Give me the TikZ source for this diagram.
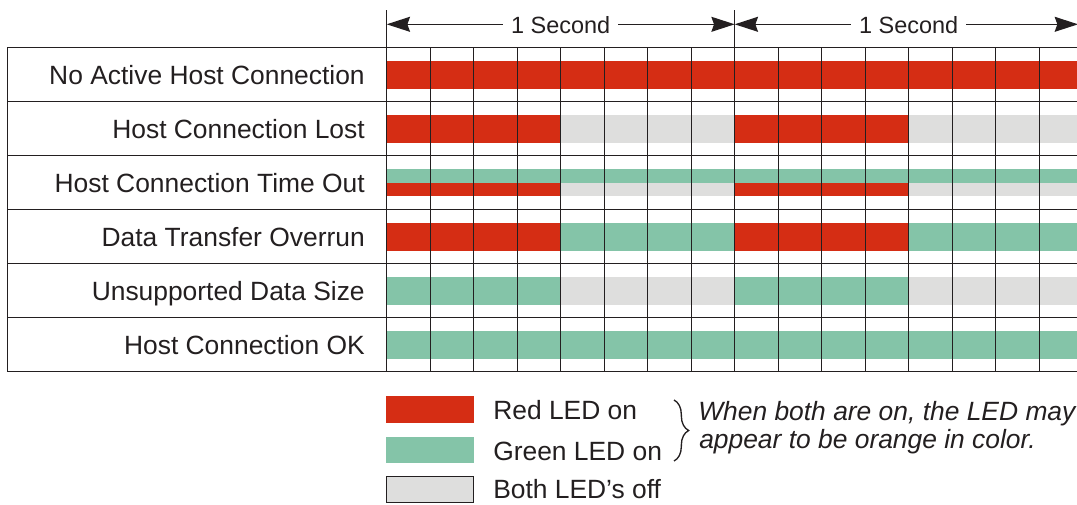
\documentclass[tikz,border=0pt]{standalone}
\usepackage{fontspec}
\setmainfont{Liberation Sans}
\usetikzlibrary{arrows.meta,decorations.pathreplacing}
\definecolor{ledred}{RGB}{213,45,20}
\definecolor{ledgreen}{RGB}{132,196,168}
\definecolor{ledoff}{RGB}{222,222,221}
\definecolor{ink}{RGB}{35,31,32}
\begin{document}
\begin{tikzpicture}[x=0.75pt,y=-0.75pt,
  gridline/.style={draw=ink,line width=1pt},
  rowlabel/.style={anchor=base east,inner sep=0pt,text=ink,font=\fontsize{19.8pt}{22pt}\selectfont},
  sectext/.style={anchor=base,fill=white,inner xsep=6pt,inner ysep=1pt,text=ink,font=\fontsize{17.6pt}{20pt}\selectfont},
  spanarrow/.style={draw=ink,line width=0.9pt,{Stealth[length=17.5pt,width=11.25pt,inset=2pt]}-{Stealth[length=17.5pt,width=11.25pt,inset=2pt]}},
  legbox/.style={minimum width=66pt,minimum height=20pt,inner sep=0pt,draw=none},
  legtext/.style={anchor=base west,inner sep=0pt,text=ink,font=\fontsize{19.8pt}{22pt}\selectfont},
  notetext/.style={anchor=base west,inner sep=0pt,text=ink,font=\fontsize{19.8pt}{22pt}\selectfont\itshape},
  bracestyle/.style={draw=ink,line width=1pt,decorate,decoration={brace,amplitude=11pt}}
]
\useasboundingbox (0,0) rectangle (1077,504);
\begin{scope}
\clip (0,0) rectangle (1077,504);
% ---- bars ----
% row 1: no active host connection
\fill[ledred] (386.7,61) rectangle (1083,89);
% row 2: host connection lost
\fill[ledred]  (386.7,115) rectangle (560.7,143);
\fill[ledoff]  (560.7,115) rectangle (734.7,143);
\fill[ledred]  (734.7,115) rectangle (908.7,143);
\fill[ledoff]  (908.7,115) rectangle (1083,143);
% row 3: host connection time out
\fill[ledgreen] (386.7,169) rectangle (1083,183);
\fill[ledred]  (386.7,183) rectangle (560.7,195.8);
\fill[ledoff]  (560.7,183) rectangle (734.7,195.8);
\fill[ledred]  (734.7,183) rectangle (908.7,195.8);
\fill[ledoff]  (908.7,183) rectangle (1083,195.8);
% row 4: data transfer overrun
\fill[ledred]   (386.7,223.1) rectangle (560.7,251.1);
\fill[ledgreen] (560.7,223.1) rectangle (734.7,251.1);
\fill[ledred]   (734.7,223.1) rectangle (908.7,251.1);
\fill[ledgreen] (908.7,223.1) rectangle (1083,251.1);
% row 5: unsupported data size
\fill[ledgreen] (386.7,277.1) rectangle (560.7,305.1);
\fill[ledoff]   (560.7,277.1) rectangle (734.7,305.1);
\fill[ledgreen] (734.7,277.1) rectangle (908.7,305.1);
\fill[ledoff]   (908.7,277.1) rectangle (1083,305.1);
% row 6: host connection ok
\fill[ledgreen] (386.7,331.1) rectangle (1083,359.1);
% ---- grid ----
\foreach \k in {0,...,6}
  \draw[gridline] (7.3,47.3+54.03*\k) -- (1085,47.3+54.03*\k);
\draw[gridline] (7.3,47.3) -- (7.3,371.5);
\foreach \i in {1,...,7,9,10,...,15}
  \draw[gridline] (386.7+43.5*\i,47.3) -- (386.7+43.5*\i,371.5);
\draw[gridline] (386.7,10) -- (386.7,371.5);
\draw[gridline] (734.7,10) -- (734.7,371.5);
% ---- header ----
\coordinate (m0) at (386.7,24.3);
\coordinate (m1) at (734.7,24.3);
\coordinate (m2) at (1078,24.3);
\draw[spanarrow] (m0) -- (m1);
\draw[spanarrow] (m1) -- (m2);
\node[sectext] (sec1) at (560.7,33.3) {1 Second};
\node[sectext] (sec2) at (908.7,33.3) {1 Second};
\end{scope}
% ---- row labels ----
\node[rowlabel] (l1) at (365,84.3)  {No Active Host Connection};
\node[rowlabel] (l2) at (365,138.3) {Host Connection Lost};
\node[rowlabel] (l3) at (365,192.4) {Host Connection Time Out};
\node[rowlabel] (l4) at (365,246.4) {Data Transfer Overrun};
\node[rowlabel] (l5) at (365,300.4) {Unsupported Data Size};
\node[rowlabel] (l6) at (365,354.5) {Host Connection OK};
% ---- legend ----
\node[legbox,fill=ledred]   (kred)   at (430,409.3) {};
\node[legbox,fill=ledgreen] (kgreen) at (430,450) {};
\node[legbox,fill=ledoff,draw=ink,line width=0.8pt,minimum width=65pt,minimum height=19.5pt] (koff) at (430,489.8) {};
\node[legtext] (tred)   at (493,419.3) {Red LED on};
\node[legtext] (tgreen) at (493,460)   {Green LED on};
\node[legtext] (toff)   at (493,498.3) {Both LED’s off};
\coordinate (b0) at (674,400);
\coordinate (b1) at (674,461);
\draw[bracestyle] (b0) -- (b1);
\node[notetext] (n1) at (698,420)   {When both are on, the LED may};
\node[notetext] (n2) at (699,448.3) {appear to be orange in color.};
\end{tikzpicture}
\end{document}
